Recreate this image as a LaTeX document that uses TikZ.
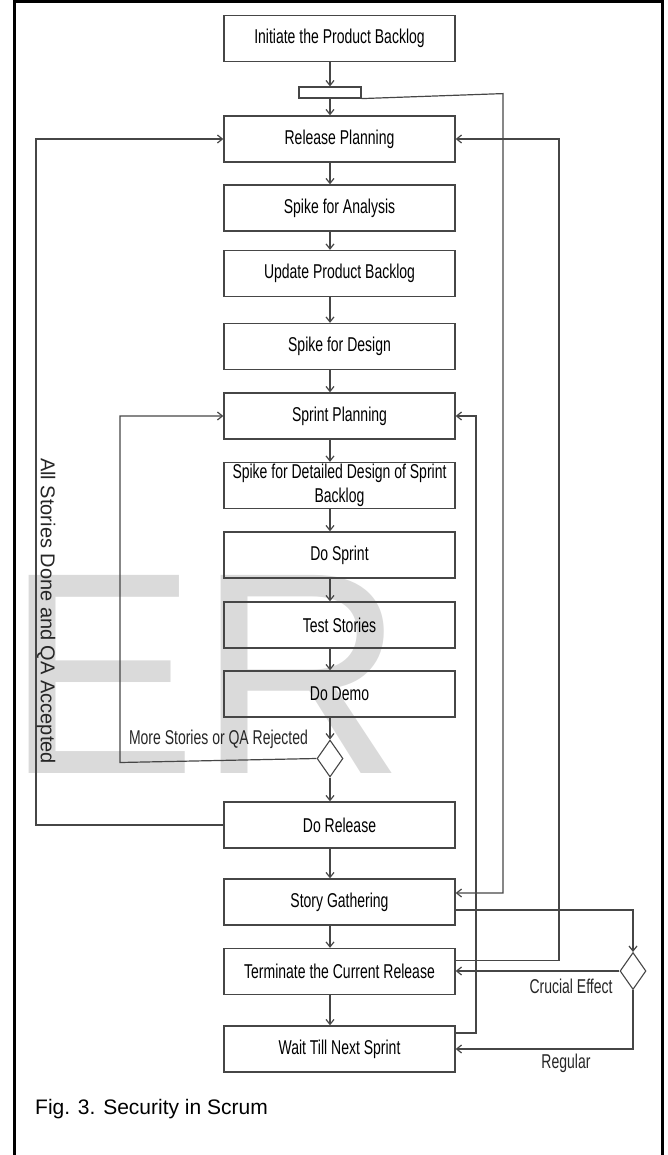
\documentclass[tikz,border=0pt]{standalone}
\usepackage{fontspec}
\setmainfont{Liberation Sans}
\newfontfamily\narrowfont[FakeStretch=0.7]{Liberation Sans}
\usetikzlibrary{arrows.meta,shapes.geometric}
\definecolor{wmgray}{RGB}{218,218,218}
\definecolor{linegray}{RGB}{70,70,70}

\begin{document}
\begin{tikzpicture}[x=1pt, y=-1pt,
box/.style={
		draw=linegray,
		line width=1.3pt,
		minimum width=231pt,
		minimum height=46pt,
		inner sep=0pt,
		align=center,
		font=\narrowfont\fontsize{20}{24}\selectfont,
		},
decision/.style={diamond, draw=linegray, line width=1.1pt, inner sep=0pt,
		minimum width=26pt, minimum height=37pt},
flow/.style={->, >={Straight Barb[length=5pt,width=8pt]}, draw=linegray, line width=1.2pt},
lbl/.style={font=\narrowfont\fontsize{20}{24}\selectfont, inner sep=0pt, text=black!85}
]

\def \cx {339.5} % centre of the boxes
\def \ax {330}   % x of the main flow

\useasboundingbox (0,0) rectangle (667,1155);

% watermark
\node[anchor=base west, inner sep=0pt, text=wmgray,
  font=\fontsize{288}{300}\selectfont] (wm) at (5,773) {ER};

\foreach \nm/\yy/\txt in {
  ini/38.5/{Initiate the Product Backlog},
  rel/139/{Release Planning},
  ana/208/{Spike for Analysis},
  upd/273.5/{Update Product Backlog},
  des/346.5/{Spike for Design},
  spr/416/{Sprint Planning},
  det/485.5/{Spike for Detailed Design of Sprint\\Backlog},
  dos/555/{Do Sprint},
  tst/625/{Test Stories},
  dem/694/{Do Demo},
  rls/825/{Do Release},
  sto/902/{Story Gathering},
  ter/971.5/{Terminate the Current Release},
  wai/1049/{Wait Till Next Sprint}}
{
  \node[box] (\nm) at (\cx,\yy) {\txt};
}

\node[draw=linegray, line width=1.2pt, minimum width=62pt, minimum height=11pt,
  inner sep=0pt] (bar) at (\ax,92.5) {};
\node[decision] (dA) at (\ax,758.5) {};
\node[decision] (dB) at (633,971) {};

\coordinate (colL) at (36,0);
\coordinate (colS) at (120,0);
\coordinate (colM) at (476,0);
\coordinate (colR) at (503,0);
\coordinate (colRR) at (559,0);

\foreach \a/\b in {rel/ana, ana/upd, upd/des, des/spr, spr/det, det/dos,
  dos/tst, tst/dem, rls/sto, sto/ter, ter/wai}
  \draw[flow] (\a.south -| bar) -- (\b.north -| bar);

\draw[flow] (ini.south -| bar) -- (bar.north);
\draw[flow] (bar.south) -- (rel.north -| bar);
\draw[flow] (bar.south east) -- ([yshift=5]bar.south east -| colR) |- ([yshift=9]sto.east);
\draw[flow] (dem.south -| bar) -- (dA.north);
\draw[flow] (dA.south) -- (rls.north -| bar);

% release loops
\draw[flow] (rls.west) -- (rls.west -| colL) |- (rel.west);
\draw[flow] ([yshift=11]ter.east) -- ([yshift=11]ter.east -| colRR) |- (rel.east);

% sprint loops
\draw[flow] (dA.west) -- ([yshift=-4]dA.west -| colS) |- (spr.west);
\draw[flow] ([yshift=16]wai.east) -- ([yshift=16]wai.east -| colM) |- (spr.east);

\draw[flow] ([yshift=-8]sto.east) -| (dB.north);
\draw[flow] (dB.west) -- (dB.west -| ter.east);
\draw[flow] (dB.south) |- (wai.east);

\node[lbl] (lblMore) at (218.5,739) {More Stories or QA Rejected};
\node[lbl] (lblCru) at (571,986) {Crucial Effect};
\node[lbl] (lblReg) at (566,1063) {Regular};
\node[rotate=-90, inner sep=0pt, text=black!85, font=\fontsize{20}{24}\selectfont]
  (lblAll) at (46,611) {All Stories Done and QA Accepted};

\node[anchor=west, inner sep=0pt, font=\fontsize{21}{25}\selectfont]
  (cap) at (35,1109) {Fig. 3. Security in Scrum};

% frame
\draw[line width=3pt] (14,1155) -- (14,2) -- (662,2) -- (662,1155);
\end{tikzpicture}
\end{document}
